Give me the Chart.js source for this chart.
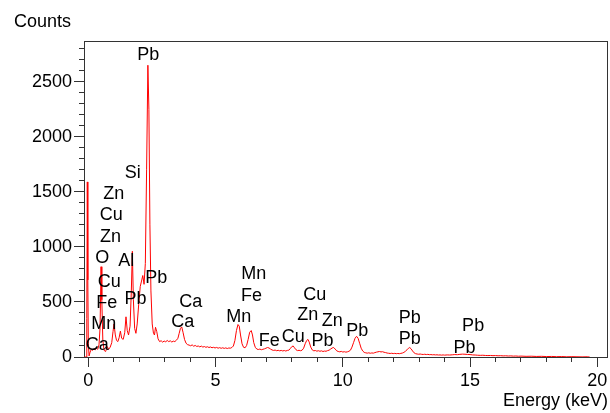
<!DOCTYPE html>
<html>
<head>
<meta charset="utf-8">
<script src="https://cdn.jsdelivr.net/npm/chart.js@4"></script>
<style>
  html, body { margin: 0; padding: 0; background: #fff; }
  canvas { display: block; }
</style>
</head>
<body>
<canvas id="spectrum" width="610" height="413"></canvas>
<script>
// EDS spectrum, energy in keV and counts
const energyKeV = [
  -0.17, -0.09, -0.06, -0.04, -0.02, 0.00, 0.03, 0.07, 0.12, 0.17,
  0.22, 0.27, 0.32, 0.37, 0.42, 0.46, 0.50, 0.53, 0.57, 0.62,
  0.68, 0.74, 0.80, 0.86, 0.92, 0.97, 1.01, 1.06, 1.11, 1.16,
  1.21, 1.26, 1.31, 1.37, 1.43, 1.48, 1.53, 1.58, 1.64, 1.69,
  1.73, 1.77, 1.82, 1.87, 1.92, 1.98, 2.04, 2.10, 2.14, 2.19,
  2.24, 2.29, 2.34, 2.38, 2.42, 2.46, 2.51, 2.56, 2.60, 2.64,
  2.69, 2.74, 2.80, 2.86, 2.92, 2.98, 3.04, 3.10, 3.16, 3.22,
  3.28, 3.34, 3.40, 3.46, 3.52, 3.57, 3.62, 3.67, 3.72, 3.78,
  3.84, 3.90, 3.96, 4.02, 4.08, 4.14, 4.20, 4.26, 4.32, 4.38,
  4.44, 4.50, 4.56, 4.62, 4.68, 4.74, 4.80, 4.86, 4.92, 4.98,
  5.04, 5.10, 5.16, 5.22, 5.28, 5.34, 5.40, 5.46, 5.52, 5.58,
  5.64, 5.70, 5.76, 5.82, 5.88, 5.93, 5.98, 6.04, 6.10, 6.16,
  6.22, 6.28, 6.34, 6.40, 6.45, 6.50, 6.56, 6.62, 6.68, 6.74,
  6.80, 6.86, 6.92, 6.98, 7.04, 7.10, 7.16, 7.22, 7.28, 7.34,
  7.40, 7.46, 7.52, 7.58, 7.64, 7.70, 7.76, 7.82, 7.88, 7.94,
  8.00, 8.05, 8.10, 8.16, 8.22, 8.28, 8.34, 8.40, 8.46, 8.52,
  8.58, 8.63, 8.68, 8.74, 8.80, 8.86, 8.92, 8.98, 9.04, 9.10,
  9.16, 9.22, 9.28, 9.34, 9.40, 9.46, 9.52, 9.58, 9.64, 9.70,
  9.76, 9.82, 9.88, 9.94, 10.00, 10.06, 10.12, 10.18, 10.24, 10.30,
  10.36, 10.42, 10.48, 10.54, 10.60, 10.66, 10.72, 10.78, 10.84, 10.90,
  10.96, 11.02, 11.08, 11.14, 11.20, 11.26, 11.32, 11.38, 11.44, 11.50,
  11.56, 11.62, 11.68, 11.74, 11.80, 11.86, 11.92, 11.98, 12.04, 12.10,
  12.16, 12.22, 12.28, 12.34, 12.40, 12.46, 12.52, 12.58, 12.63, 12.68,
  12.74, 12.80, 12.86, 12.92, 12.98, 13.04, 13.10, 13.16, 13.22, 13.28,
  13.34, 13.40, 13.46, 13.52, 13.58, 13.64, 13.70, 13.76, 13.82, 13.88,
  13.94, 14.00, 14.10, 14.20, 14.30, 14.40, 14.50, 14.60, 14.70, 14.80,
  14.90, 15.00, 15.10, 15.20, 15.30, 15.40, 15.50, 15.60, 15.70, 15.80,
  15.90, 16.00, 16.10, 16.20, 16.30, 16.40, 16.50, 16.60, 16.70, 16.80,
  16.90, 17.00, 17.20, 17.40, 17.60, 17.80, 18.00, 18.20, 18.40, 18.60,
  18.80, 19.00, 19.20, 19.40, 19.60, 19.70
];
const counts = [
  0, 0, 350, 1590, 700, 120, 10, 45, 70, 60,
  75, 65, 80, 70, 110, 260, 820, 520, 150, 60,
  50, 95, 70, 90, 130, 230, 300, 200, 150, 140,
  175, 235, 170, 160, 220, 365, 240, 200, 280, 600,
  960, 520, 260, 215, 300, 480, 640, 700, 740, 660,
  850, 1700, 2650, 2250, 1200, 600, 300, 215, 200, 270,
  230, 165, 140, 148, 135, 145, 138, 150, 140, 147,
  136, 144, 140, 152, 170, 215, 260, 273, 225, 160,
  125, 112, 108, 102, 110, 98, 105, 96, 100, 92,
  99, 90, 95, 88, 93, 86, 91, 84, 88, 82,
  87, 80, 85, 79, 84, 78, 83, 77, 82, 80,
  86, 100, 150, 240, 295, 280, 200, 120, 88, 84,
  105, 160, 225, 240, 200, 130, 88, 72, 68, 72,
  66, 70, 74, 80, 86, 82, 72, 64, 60, 63,
  57, 61, 56, 60, 55, 59, 54, 60, 62, 78,
  95, 100, 84, 66, 58, 61, 57, 62, 80, 120,
  150, 160, 135, 90, 64, 56, 59, 53, 57, 52,
  56, 50, 54, 52, 58, 62, 72, 82, 86, 72,
  56, 50, 47, 51, 45, 48, 44, 47, 52, 62,
  90, 130, 170, 188, 170, 125, 80, 55, 42, 38,
  35, 38, 34, 37, 35, 40, 44, 47, 50, 46,
  48, 43, 40, 36, 34, 32, 34, 31, 33, 30,
  32, 30, 33, 36, 42, 52, 65, 80, 86, 75,
  55, 38, 30, 27, 25, 27, 24, 23, 25, 22,
  24, 21, 22, 20, 21, 19, 20, 18, 19, 17,
  19, 17, 19, 18, 20, 22, 21, 24, 26, 25,
  23, 22, 19, 18, 16, 15, 16, 14, 13, 14,
  12, 13, 11, 12, 10, 11, 9, 10, 8, 9,
  7, 8, 6, 7, 5, 6, 4, 5, 3, 4,
  2, 3, 2, 1, 2, 0
];

// element markers: name, energy (keV), height of label (counts)
const markNames = ["Pb", "Si", "Zn", "Cu", "Zn", "O", "Al", "Cu", "Pb", "Fe",
  "Pb", "Mn", "Ca", "Ca", "Ca", "Mn", "Fe", "Mn", "Fe", "Cu",
  "Cu", "Zn", "Zn", "Pb", "Pb", "Pb", "Pb", "Pb", "Pb"];
const markEnergy = [2.35, 1.75, 1.00, 0.90, 0.87, 0.55, 1.49, 0.82, 2.67, 0.72,
  1.85, 0.61, 0.35, 4.02, 3.71, 6.50, 6.41, 5.91, 7.11, 8.05,
  8.90, 8.62, 9.58, 9.20, 10.57, 12.63, 12.63, 15.12, 14.78];
const markCounts = [2761, 1686, 1490, 1302, 1104, 914, 890, 693, 732, 500,
  541, 314, 127, 514, 330, 763, 566, 375, 163, 193,
  581, 391, 345, 163, 254, 369, 173, 293, 91];

// every tick position; labels only on the major ones
const xTicks = [0, 1, 2, 3, 4, 5, 6, 7, 8, 9, 10, 11, 12, 13, 14, 15, 16, 17, 18, 19, 20];
const yTicks = [0, 100, 200, 300, 400, 500, 600, 700, 800, 900, 1000, 1100, 1200, 1300, 1400,
  1500, 1600, 1700, 1800, 1900, 2000, 2100, 2200, 2300, 2400, 2500, 2600, 2700, 2800];
const xMajorStep = 5;
const yMajorStep = 500;

const FONT = "Liberation Sans, Arial, Helvetica, sans-serif";
const AXIS = "#333";

Chart.defaults.font.family = FONT;
Chart.defaults.font.size = 18;
Chart.defaults.color = "#000";

const points = energyKeV.map((e, i) => ({ x: e, y: counts[i] }));

// longer major ticks, frame, axis titles and element labels
const decorations = {
  id: "decorations",
  afterDraw(chart) {
    const ctx = chart.ctx;
    const a = chart.chartArea;
    const x = chart.scales.x;
    const y = chart.scales.y;
    ctx.save();
    ctx.fillStyle = AXIS;
    yTicks.filter((v) => v % yMajorStep === 0).forEach((v) => {
      const py = Math.round(y.getPixelForValue(v) - 0.5);
      ctx.fillRect(Math.round(a.left) - 10, py, 6, 1);
    });
    xTicks.filter((v) => v % xMajorStep === 0).forEach((v) => {
      const px = Math.round(x.getPixelForValue(v) - 0.5);
      ctx.fillRect(px, Math.round(a.bottom) + 4, 1, 6);
    });

    // top and right frame
    ctx.fillRect(Math.round(a.left), Math.round(a.top), Math.round(a.right - a.left) + 1, 1);
    ctx.fillRect(Math.round(a.right), Math.round(a.top), 1, Math.round(a.bottom - a.top));

    ctx.fillStyle = "#000";
    ctx.font = "18px " + FONT;
    ctx.textAlign = "left";
    ctx.textBaseline = "alphabetic";
    ctx.fillText("Counts", 14, 27);
    ctx.textAlign = "right";
    ctx.fillText("Energy (keV)", 608, 406);

    ctx.textAlign = "center";
    markNames.forEach((name, i) => {
      const px = x.getPixelForValue(markEnergy[i]);
      const py = y.getPixelForValue(markCounts[i]);
      ctx.fillText(name, px, py + 6.5);
    });
    ctx.restore();
  },
};

new Chart(document.getElementById("spectrum"), {
  type: "scatter",
  data: {
    datasets: [
      {
        data: points,
        showLine: true,
        borderColor: "#ff0000",
        borderWidth: 1,
        pointRadius: 0,
        tension: 0,
      },
    ],
  },
  options: {
    responsive: false,
    animation: false,
    layout: { padding: { top: 41, right: 3, left: 0, bottom: 0 } },
    plugins: {
      legend: { display: false },
      tooltip: { enabled: false },
    },
    scales: {
      x: {
        type: "linear",
        min: -0.17,
        max: 20.38,
        afterBuildTicks: (s) => { s.ticks = xTicks.map((v) => ({ value: v })); },
        ticks: {
          padding: 8,
          maxRotation: 0,
          autoSkip: false,
          callback: (v) => (v % xMajorStep === 0 ? String(v) : ""),
        },
        grid: { drawOnChartArea: false, drawTicks: true, tickLength: 5, color: AXIS },
        border: { display: true, color: AXIS },
        afterFit: (s) => {
          s.height = 56;
          s.paddingLeft = 0;
          s.paddingRight = 0;
        },
      },
      y: {
        min: 0,
        max: 2870,
        afterBuildTicks: (s) => { s.ticks = yTicks.map((v) => ({ value: v })); },
        ticks: {
          padding: 7,
          autoSkip: false,
          callback: (v) => (v % yMajorStep === 0 ? String(v) : ""),
        },
        grid: { drawOnChartArea: false, drawTicks: true, tickLength: 5, color: AXIS },
        border: { display: true, color: AXIS },
        afterFit: (s) => {
          s.width = 84;
          s.paddingTop = 0;
          s.paddingBottom = 0;
        },
      },
    },
  },
  plugins: [decorations],
});
</script>
</body>
</html>
